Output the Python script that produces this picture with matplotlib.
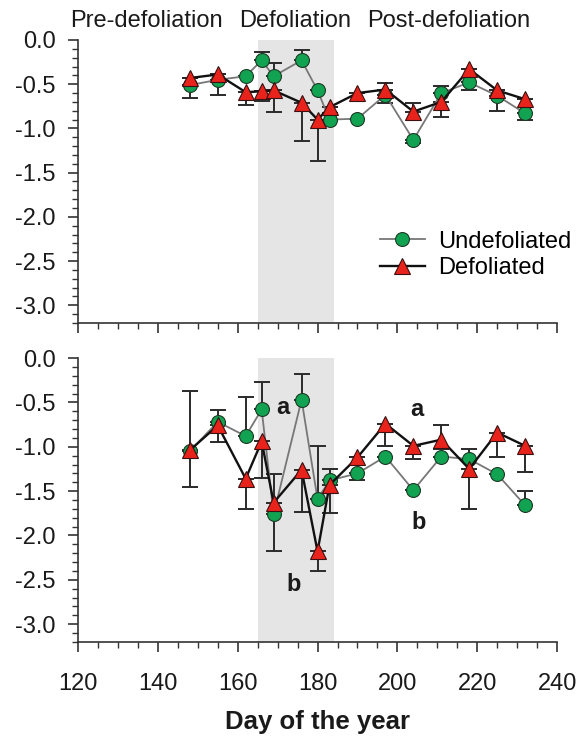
import matplotlib.pyplot as plt
from matplotlib.ticker import MultipleLocator

plt.rcParams["font.family"] = ["Liberation Sans", "DejaVu Sans"]

# sampling days (same for both panels)
days = [148, 155, 162, 166, 169, 176, 180, 183, 190, 197, 204, 211, 218, 225, 232]

# top panel
undef_top = [-0.51, -0.45, -0.41, -0.23, -0.41, -0.23, -0.57, -0.90, -0.89, -0.62, -1.13, -0.60, -0.48, -0.63, -0.83]
def_top = [-0.43, -0.39, -0.59, -0.58, -0.57, -0.71, -0.90, -0.76, -0.60, -0.56, -0.81, -0.70, -0.33, -0.57, -0.67]
undef_top_lo = [0.15, 0.17, 0, 0, 0, 0, 0, 0, 0, 0.09, 0.04, 0, 0.08, 0.17, 0.07]
undef_top_hi = [0, 0, 0, 0.09, 0.15, 0.12, 0, 0.08, 0, 0, 0, 0.08, 0, 0, 0]
def_top_lo = [0, 0, 0.15, 0.11, 0.24, 0.43, 0.47, 0, 0, 0, 0, 0.17, 0, 0, 0]
def_top_hi = [0, 0, 0, 0, 0, 0, 0, 0, 0, 0.07, 0.10, 0, 0, 0, 0]

# bottom panel
undef_bot = [-1.05, -0.72, -0.88, -0.58, -1.76, -0.47, -1.59, -1.38, -1.30, -1.11, -1.49, -1.11, -1.14, -1.31, -1.66]
def_bot = [-1.04, -0.76, -1.36, -0.94, -1.63, -1.26, -2.18, -1.43, -1.12, -0.74, -0.99, -0.92, -1.25, -0.84, -0.99]
undef_bot_lo = [0, 0, 0, 0, 0.41, 0, 0, 0, 0.08, 0, 0, 0, 0, 0, 0]
undef_bot_hi = [0.68, 0.13, 0.44, 0.31, 0, 0.29, 0.60, 0.13, 0, 0, 0, 0, 0.12, 0, 0.16]
def_bot_lo = [0.41, 0.19, 0.34, 0.41, 0, 0.48, 0.22, 0.32, 0, 0.25, 0.15, 0.11, 0.45, 0.28, 0.30]
def_bot_hi = [0, 0, 0, 0, 0.32, 0, 0, 0, 0, 0, 0, 0.16, 0, 0, 0]

# defoliation period
shade = (165, 184)
periods = ["Pre-defoliation", "Defoliation", "Post-defoliation"]
letters = [("a", 171.4, -0.56), ("b", 174, -2.55), ("a", 204.8, -0.58), ("b", 205.4, -1.85)]

green = "#12a352"
red = "#e8231c"

fig = plt.figure(figsize=(5.8, 7.42), dpi=100)
ax1 = fig.add_axes([0.1345, 0.5647, 0.826, 0.3814])
ax2 = fig.add_axes([0.1345, 0.1348, 0.826, 0.3827])


def panel(ax, u, d, ulo, uhi, dlo, dhi, labels):
    ax.axvspan(shade[0], shade[1], color="#e5e5e5", lw=0, zorder=0)
    ax.errorbar(days, u, yerr=[ulo, uhi], fmt="none", ecolor="#2a2a2a",
                elinewidth=1.4, capsize=6, capthick=1.4, zorder=2)
    ax.errorbar(days, d, yerr=[dlo, dhi], fmt="none", ecolor="#2a2a2a",
                elinewidth=1.4, capsize=6, capthick=1.4, zorder=2)
    ax.plot(days, u, color="#777777", lw=1.3, marker="o", ms=10,
            mfc=green, mec="#1c3a25", mew=0.8, zorder=3, label="Undefoliated")
    ax.plot(days, d, color="#111111", lw=1.7, marker="^", ms=11,
            mfc=red, mec="#3a1010", mew=0.8, zorder=4, label="Defoliated")
    ax.set_xlim(120, 240)
    ax.set_ylim(-3.2, 0)
    ax.xaxis.set_major_locator(MultipleLocator(20))
    ax.xaxis.set_minor_locator(MultipleLocator(5))
    ax.yaxis.set_major_locator(MultipleLocator(0.5))
    ax.yaxis.set_minor_locator(MultipleLocator(0.1))
    ax.yaxis.set_major_formatter(plt.FormatStrFormatter("%.1f"))
    ax.spines["top"].set_visible(False)
    ax.spines["right"].set_visible(False)
    for s in ("left", "bottom"):
        ax.spines[s].set_linewidth(1.2)
        ax.spines[s].set_color("#333333")
    ax.tick_params(which="major", length=7, width=1.2, color="#333333",
                   labelsize=17, pad=9, labelcolor="#1a1a1a")
    ax.tick_params(axis="x", which="major", pad=15)
    ax.tick_params(which="minor", length=4, width=1.0, color="#333333")
    ax.tick_params(axis="x", labelbottom=labels)


panel(ax1, undef_top, def_top, undef_top_lo, undef_top_hi, def_top_lo, def_top_hi, False)
panel(ax2, undef_bot, def_bot, undef_bot_lo, undef_bot_hi, def_bot_lo, def_bot_hi, True)

ax1.legend(loc="center left", bbox_to_anchor=(0.63, 0.24), frameon=False,
           fontsize=17, handlelength=1.9, handletextpad=0.55, labelspacing=0.2,
           borderpad=0, borderaxespad=0)

for t, x, y in letters:
    ax2.text(x, y, t, fontsize=17, fontweight="bold", ha="center", va="center", color="#1a1a1a")

for t, xc in zip(periods, [0.253, 0.509, 0.774]):
    fig.text(xc, 0.9636, t, fontsize=17, ha="center", va="baseline", color="#1a1a1a")

fig.text(0.5474, 0.0175, "Day of the year", fontsize=18.5, fontweight="bold",
         ha="center", va="baseline", color="#1a1a1a")

fig.savefig("out.png", dpi=100)
